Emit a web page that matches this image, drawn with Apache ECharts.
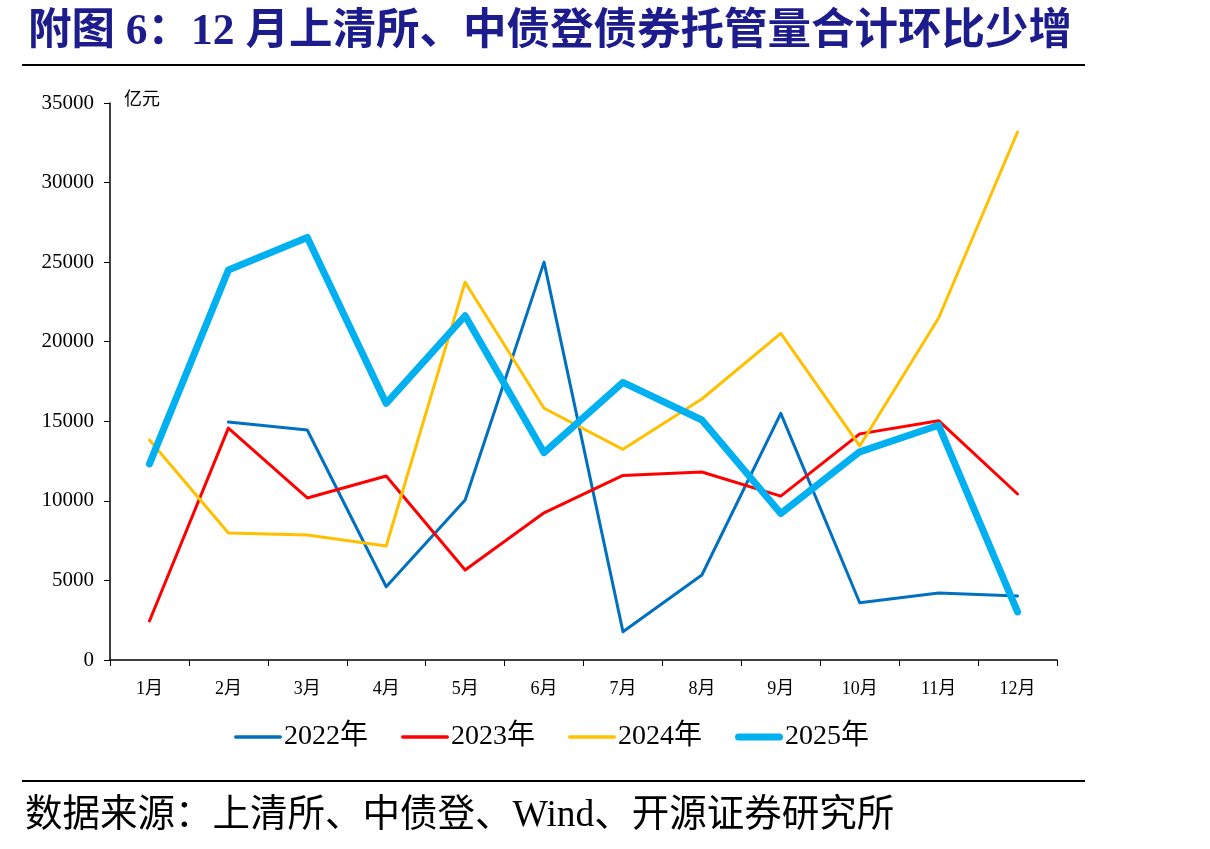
<!DOCTYPE html>
<html>
<head>
<meta charset="utf-8">
<title>12月上清所、中债登债券托管量合计环比少增</title>
<script src="https://cdn.jsdelivr.net/npm/echarts@6/dist/echarts.min.js"></script>
<style>
  html, body { margin: 0; padding: 0; background: #fff; }
  #chart { width: 1210px; height: 849px; }
</style>
</head>
<body>
<div id="chart"></div>
<script>
// 月份
var months = ['1月', '2月', '3月', '4月', '5月', '6月', '7月', '8月', '9月', '10月', '11月', '12月'];
// 各年托管量环比变化（亿元），2022年1月缺
var y2022 = ['-', 14950, 14450, 4600, 10050, 25000, 1780, 5340, 15500, 3600, 4210, 4020];
var y2023 = [2450, 14570, 10180, 11560, 5650, 9250, 11600, 11810, 10300, 14210, 15040, 10430];
var y2024 = [13830, 7980, 7860, 7160, 23740, 15820, 13240, 16400, 20530, 13450, 21490, 33180];
var y2025 = [12320, 24500, 26550, 16120, 21630, 13030, 17440, 15080, 9210, 13080, 14750, 3020];
var seriesNames = ['2022年', '2023年', '2024年', '2025年'];
var yTicks = { min: 0, max: 35000, step: 5000 };

var serif = '"Liberation Serif", "Noto Sans CJK SC", serif';
var chart = echarts.init(document.getElementById('chart'));

function lineSeries(name, data, color, width) {
    return {
        name: name,
        type: 'line',
        data: data,
        symbol: 'none',
        showSymbol: false,
        lineStyle: { color: color, width: width, cap: 'round', join: 'round' },
        itemStyle: { color: color },
        emphasis: { disabled: true },
        animation: false
    };
}

// 图例用细线/粗线图标
function lineIcon(h) {
    var r = h / 2;
    return 'path://M' + r + ',0 H' + (48 - r) + ' A' + r + ',' + r + ' 0 0 1 ' + (48 - r) + ',' + h +
        ' H' + r + ' A' + r + ',' + r + ' 0 0 1 ' + r + ',0 Z';
}

var option = {
    backgroundColor: '#fff',
    animation: false,
    grid: { left: 110, right: 153, top: 103, bottom: 189, containLabel: false },
    legend: {
        left: 229,
        top: 718,
        itemWidth: 48,
        itemHeight: 14,
        itemGap: 33,
        textStyle: { fontFamily: serif, fontSize: 28, color: '#000', padding: [0, 0, 0, -3] },
        data: [
            { name: seriesNames[0], icon: lineIcon(3.5) },
            { name: seriesNames[1], icon: lineIcon(3.5) },
            { name: seriesNames[2], icon: lineIcon(3.5) },
            { name: seriesNames[3], icon: lineIcon(7) }
        ]
    },
    xAxis: {
        type: 'category',
        data: months,
        boundaryGap: true,
        axisLine: { lineStyle: { color: '#000', width: 1.5 } },
        axisTick: { show: true, alignWithLabel: false, length: 6, lineStyle: { color: '#000' } },
        axisLabel: { fontFamily: serif, fontSize: 18, color: '#000', margin: 20 },
        splitLine: { show: false }
    },
    yAxis: {
        type: 'value',
        min: yTicks.min,
        max: yTicks.max,
        interval: yTicks.step,
        axisLine: { show: true, lineStyle: { color: '#000', width: 1.5 } },
        axisTick: { show: true, length: 6, lineStyle: { color: '#000' } },
        axisLabel: {
            fontFamily: serif, fontSize: 21, color: '#000', margin: 16,
            formatter: function (v) { return String(v); }
        },
        splitLine: { show: false }
    },
    graphic: [
        {
            type: 'text', left: 28, top: 11,
            style: {
                text: '附图 6：12 月上清所、中债登债券托管量合计环比少增',
                font: 'bold 43.5px "Liberation Serif", "Noto Sans CJK SC", serif',
                fill: '#1c1c8c'
            }
        },
        { type: 'rect', left: 22, top: 64, shape: { width: 1063, height: 2 }, style: { fill: '#000' } },
        {
            type: 'text', left: 124, top: 89,
            style: { text: '亿元', font: '18px "Noto Sans CJK SC", sans-serif', fill: '#000' }
        },
        { type: 'rect', left: 22, top: 780, shape: { width: 1063, height: 2 }, style: { fill: '#000' } },
        {
            type: 'text', left: 25, top: 797,
            style: {
                text: '数据来源：上清所、中债登、Wind、开源证券研究所',
                font: '37.5px "Liberation Serif", "Noto Sans CJK SC", serif',
                fill: '#000'
            }
        }
    ],
    series: [
        lineSeries(seriesNames[0], y2022, '#0070C0', 3),
        lineSeries(seriesNames[1], y2023, '#FF0000', 3),
        lineSeries(seriesNames[2], y2024, '#FFC000', 3),
        lineSeries(seriesNames[3], y2025, '#00B0F0', 7)
    ]
};

chart.setOption(option);
</script>
</body>
</html>
